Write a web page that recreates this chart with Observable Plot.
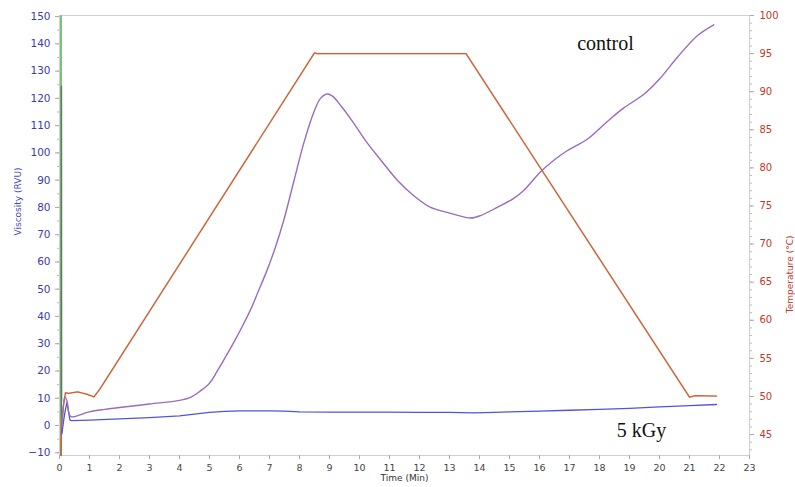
<!DOCTYPE html>
<html>
<head>
<meta charset="utf-8">
<script src="https://cdn.jsdelivr.net/npm/d3@7"></script>
<script src="https://cdn.jsdelivr.net/npm/@observablehq/plot@0.6"></script>
<style>
  html, body { margin: 0; padding: 0; background: #fff; }
  #chart { width: 795px; height: 487px; }
</style>
</head>
<body>
<div id="chart"></div>
<script>
// ---- data ----
const ctrlTime = [0.1,0.18,0.25,0.33,0.4,1,1.5,2,3,4,4.4,4.7,5.0,5.26,5.5,5.81,6.1,6.37,6.6,6.92,7.2,7.48,7.81,8.14,8.48,8.7,8.92,9.1,9.4,9.8,10.2,10.7,11.26,11.81,12.37,12.92,13.3,13.7,14.03,14.59,15.14,15.5,16.03,16.5,16.92,17.59,18.26,18.81,19.48,20.03,20.59,21.26,21.81];
const ctrlVisc = [2,10.5,9,4,3.2,5,5.9,6.6,7.9,9.2,10.5,12.7,15.5,20,24.5,30.5,36.5,42.5,48.5,57,65.5,75.5,89.5,103.5,115,120,121.6,120.8,117,111,104.5,97.5,90,84.3,80.0,78.2,77,76.1,77,80,83.3,86.5,93,97.5,100.8,105,111.5,116.5,121.5,127.5,135,143,147];

const kgyTime = [0.08,0.14,0.2,0.25,0.3,0.35,0.4,1,2,3,4,4.5,5,5.5,6,7,7.5,8,9,10,11,12,13,13.8,14.5,15,16,17,18,19,20,21,21.9];
const kgyVisc = [-3,2,6,8.5,5,2,1.8,2,2.4,2.9,3.5,4.2,4.8,5.2,5.4,5.4,5.3,5,4.9,4.9,4.9,4.8,4.8,4.6,4.8,5,5.3,5.6,5.9,6.3,6.8,7.3,7.7];

const tempTime = [0.05,0.07,0.12,0.2,0.3,0.6,0.9,1.15,1.35,8.5,8.6,13.55,21.0,21.2,21.9];
const tempC    = [42.3,46,48.5,50.5,50.4,50.6,50.3,49.95,51,95.1,95,95,49.9,50.1,50.05];

const greenSpikeTime = [0.045,0.05,0.055];
const greenSpikeVisc = [-11,150.4,10];
const darkSpikeTime = [0.06,0.065,0.07];
const darkSpikeVisc = [-11,124.5,9];

const viscTicks = d3.range(-10, 151, 10);
const tempTicks = d3.range(45, 101, 5);
const timeTicks = d3.range(0, 24, 1);

const labels = ["control", "5 kGy"];
const labelTime = [18.2, 19.4];
const labelVisc = [140.1, -1.8];

// ---- scales: temperature drawn on the viscosity scale ----
const yMin = -11, yMax = 150.4, tMin = 42.25, tMax = 100;
const toV = t => yMin + (t - tMin) / (tMax - tMin) * (yMax - yMin);
const toT = v => tMin + (v - yMin) / (yMax - yMin) * (tMax - tMin);

const ctrl = ctrlTime.map((t, i) => ({t, v: ctrlVisc[i]}));
const kgy = kgyTime.map((t, i) => ({t, v: kgyVisc[i]}));
const temp = tempTime.map((t, i) => ({t, v: toV(tempC[i])}));
const gSpike = greenSpikeTime.map((t, i) => ({t, v: greenSpikeVisc[i]}));
const dSpike = darkSpikeTime.map((t, i) => ({t, v: darkSpikeVisc[i]}));
const notes = labels.map((s, i) => ({s, t: labelTime[i], v: labelVisc[i]}));

const blank = () => "";

const chart = Plot.plot({
  width: 795, height: 487,
  marginLeft: 59, marginRight: 46, marginTop: 15, marginBottom: 32,
  style: {fontFamily: "DejaVu Sans", background: "#fff"},
  x: {domain: [0, 23], axis: null},
  y: {domain: [yMin, yMax], axis: null},
  marks: [
    Plot.frame({stroke: "#cfcfcf"}),
    // left axis
    Plot.axisY({anchor: "left", ticks: d3.range(-10, 151, 5), tickSize: 2, stroke: "#bbb", tickFormat: blank, label: null}),
    Plot.axisY({anchor: "left", ticks: viscTicks, tickSize: 4, tickPadding: 5, stroke: "#aaa", fill: "#3c3cae", color: "#3c3cae", fontSize: 10.5, label: null}),
    // right axis
    Plot.axisY({anchor: "right", ticks: d3.range(43, 101, 1).map(toV), tickSize: 2, stroke: "#bbb", tickFormat: blank, label: null}),
    Plot.axisY({anchor: "right", ticks: tempTicks.map(toV), tickSize: 4, tickPadding: 6, stroke: "#aaa", fill: "#c0392b", color: "#c0392b", fontSize: 10, tickFormat: v => Math.round(toT(v)), label: null}),
    // bottom axis
    Plot.axisX({anchor: "bottom", ticks: timeTicks, tickSize: 4, tickPadding: 5, stroke: "#aaa", fill: "#444", color: "#444", fontSize: 9.5, label: null}),
    // axis titles
    Plot.text(["Viscosity (RVU)"], {frameAnchor: "left", dx: -41, rotate: -90, fill: "#4a4ac0", fontSize: 9}),
    Plot.text(["Temperature (°C)"], {frameAnchor: "right", dx: 41, rotate: -90, fill: "#c0392b", fontSize: 9}),
    Plot.text(["Time (Min)"], {frameAnchor: "bottom", dy: 25, fill: "#333", fontSize: 9}),
    // data
    Plot.line(gSpike, {x: "t", y: "v", stroke: "#4caf50", strokeWidth: 1}),
    Plot.line(dSpike, {x: "t", y: "v", stroke: "#5d7a5d", strokeWidth: 1.4}),
    Plot.line(temp, {x: "t", y: "v", stroke: "#8bc34a", strokeWidth: 1.8, strokeOpacity: 0.35}),
    Plot.line(temp, {x: "t", y: "v", stroke: "#d65a3a", strokeWidth: 1.3}),
    Plot.line(kgy, {x: "t", y: "v", stroke: "#5252e0", strokeWidth: 1.3}),
    Plot.line(ctrl, {x: "t", y: "v", stroke: "#9a6cc0", strokeWidth: 1.4, curve: "catmull-rom"}),
    // annotations
    Plot.text(notes, {x: "t", y: "v", text: "s", fontFamily: "Liberation Serif", fontSize: 20, fill: "#111"})
  ]
});
document.getElementById("chart").appendChild(chart);
</script>
</body>
</html>
